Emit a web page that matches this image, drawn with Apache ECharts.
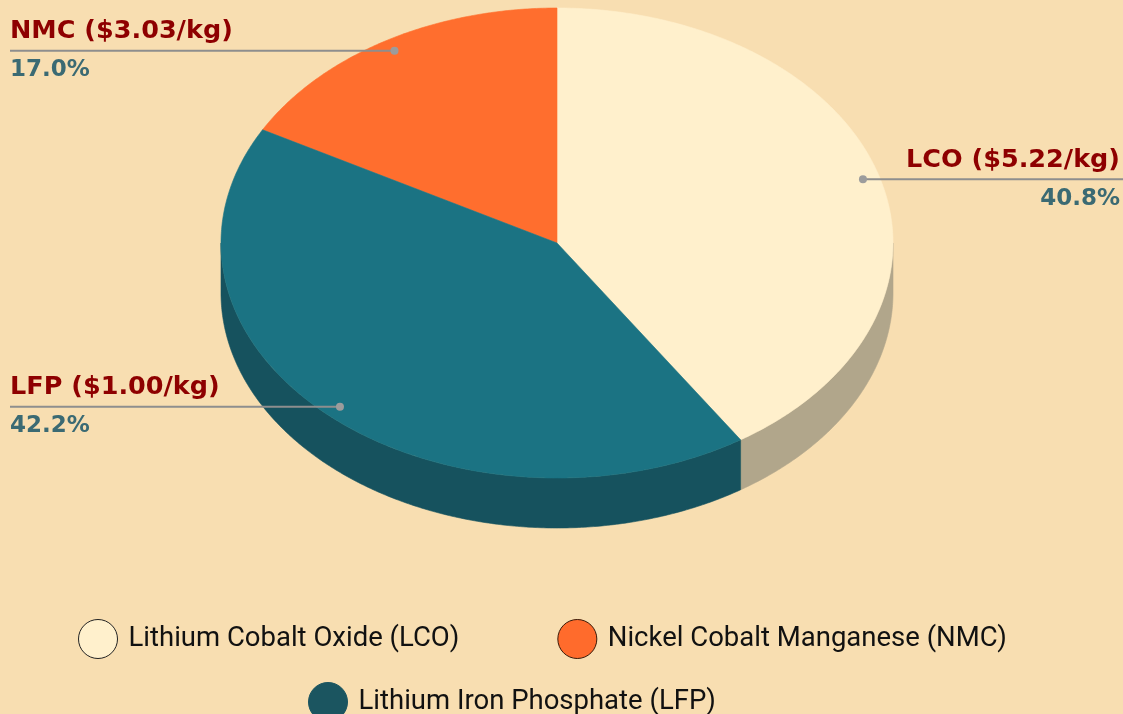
<!DOCTYPE html>
<html><head><meta charset="utf-8">
<script src="https://cdn.jsdelivr.net/npm/echarts@6/dist/echarts.min.js"></script>
<style>html,body{margin:0;padding:0;background:#F8DEB1;}#c{width:1123px;height:714px;}</style>
</head><body><div id="c"></div>
<script>
// ---- data ----
const categories = ['LCO', 'NMC', 'LFP'];
const fullNames = ['Lithium Cobalt Oxide (LCO)', 'Nickel Cobalt Manganese (NMC)', 'Lithium Iron Phosphate (LFP)'];
const shares = [40.8, 17.0, 42.2];
const prices = [5.22, 3.03, 1.00];
const sliceOrder = [0, 2, 1]; // clockwise from 12 o'clock: LCO, LFP, NMC
// ---- styles ----
const topColors = ['#FFF0CC', '#FF6E2E', '#1B7383'];
const sideColors = ['#B1A68B', '#B34D20', '#16525E'];
const legendColors = ['#FFF0CC', '#FF6B2C', '#1B5560'];
const legendBorders = ['#222222', '#3A1A08', '#1B5560'];

// cumulative start/end (percent) for each category
const ranges = [];
let acc = 0;
sliceOrder.forEach(function (i) { ranges[i] = [acc, acc + shares[i]]; acc += shares[i]; });

const CX = 557, CY = 243, RX = 336, RY = 235, DEPTH = 50;

function renderSlice(params, api) {
  const W = api.getWidth();
  const a0 = api.value(0) / 100 * 360, a1 = api.value(1) / 100 * 360;
  const i = api.value(2);
  const pt = function (deg, r, dz) {
    const t = deg * Math.PI / 180;
    return [CX + r * RX * Math.sin(t), CY - r * RY * Math.cos(t) + (dz || 0)];
  };
  const arc = function (s, e, r, dz) {
    const n = Math.max(2, Math.ceil(Math.abs(e - s) / 0.5));
    const out = [];
    for (let k = 0; k <= n; k++) out.push(pt(s + (e - s) * k / n, r, dz));
    return out;
  };
  const children = [];
  const fs = Math.max(a0, 90), fe = Math.min(a1, 270);
  if (fe > fs) {
    children.push({ type: 'polygon', z2: 1, shape: { points: arc(fs, fe, 1, 0).concat(arc(fe, fs, 1, DEPTH)) },
      style: { fill: sideColors[i], stroke: sideColors[i], lineWidth: 0.6 } });
  }
  children.push({ type: 'polygon', z2: 10, shape: { points: [[CX, CY]].concat(arc(a0, a1, 1, 0)) },
    style: { fill: topColors[i], stroke: topColors[i], lineWidth: 0.6 } });
  const mid = (a0 + a1) / 2;
  const d = pt(mid, 0.95, 0);
  const left = d[0] < CX;
  children.push({ type: 'line', z2: 20, shape: { x1: d[0], y1: d[1], x2: left ? 10 : W, y2: d[1] },
    style: { stroke: '#8E8E8E', lineWidth: 2 } });
  children.push({ type: 'circle', z2: 21, shape: { cx: d[0], cy: d[1], r: 4 }, style: { fill: '#9C9C9C' } });
  const tx = left ? 10 : W - 3;
  children.push({ type: 'text', z2: 22, style: { text: categories[i] + ' ($' + prices[i].toFixed(2) + '/kg)', x: tx, y: d[1] - 6,
    align: left ? 'left' : 'right', verticalAlign: 'bottom', font: 'bold 25.5px "DejaVu Sans"', fill: '#8E0000' } });
  children.push({ type: 'text', z2: 22, style: { text: shares[i].toFixed(1) + '%', x: tx, y: d[1] + 8,
    align: left ? 'left' : 'right', verticalAlign: 'top', font: 'bold 23px "DejaVu Sans"', fill: '#3B6A73' } });
  return { type: 'group', children: children };
}

const series = categories.map(function (c, i) {
  return {
    type: 'custom', name: fullNames[i], coordinateSystem: 'none',
    itemStyle: { color: legendColors[i] },
    renderItem: renderSlice,
    data: [[ranges[i][0], ranges[i][1], i]]
  };
});

const legendText = { fontFamily: 'Roboto, sans-serif', fontSize: 27.5, color: '#111' };
function legendItem(i) {
  return { name: fullNames[i], icon: 'circle', itemStyle: { color: legendColors[i], borderColor: legendBorders[i], borderWidth: 1 } };
}

const chart = echarts.init(document.getElementById('c'), null, { renderer: 'canvas' });
chart.setOption({
  backgroundColor: '#F8DEB1',
  animation: false,
  legend: [
    { data: [legendItem(0), legendItem(1)], left: 73, top: 614, itemWidth: 39, itemHeight: 39, itemGap: 98,
      textStyle: Object.assign({ padding: [0, 0, 0, 6] }, legendText), selectedMode: false },
    { data: [legendItem(2)], left: 303, top: 677, itemWidth: 39, itemHeight: 39,
      textStyle: Object.assign({ padding: [0, 0, 0, 6] }, legendText), selectedMode: false }
  ],
  series: series
});
</script></body></html>
